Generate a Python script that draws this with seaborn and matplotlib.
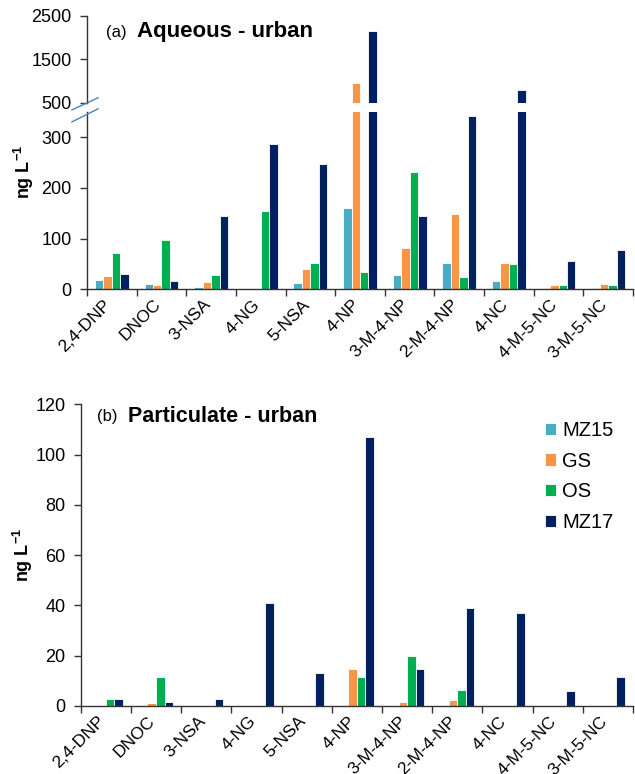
import numpy as np
import pandas as pd
import matplotlib
matplotlib.use("Agg")
import matplotlib.pyplot as plt
from matplotlib.lines import Line2D
from matplotlib.patches import Patch
import seaborn as sns

compounds = ['2,4-DNP', 'DNOC', '3-NSA', '4-NG', '5-NSA', '4-NP', '3-M-4-NP',
             '2-M-4-NP', '4-NC', '4-M-5-NC', '3-M-5-NC']
sites = ['MZ15', 'GS', 'OS', 'MZ17']
colors = ['#4BACC6', '#F79646', '#00B050', '#002060']

# (a) aqueous, ng/L
aq_mz15 = [18, 10, 4, 0, 12, 160, 28, 51, 16, 3, 3]
aq_gs = [26, 8, 14, 0, 41, 960, 82, 149, 51, 8, 10]
aq_os = [71, 97, 28, 155, 51, 34, 232, 24, 49, 8, 8]
aq_mz17 = [30, 17, 145, 286, 247, 2150, 145, 342, 785, 55, 78]

# (b) particulate, ng/L
pm_mz15 = [0, 0, 0, 0, 0, 0, 0, 0, 0, 0, 0]
pm_gs = [0, 1.0, 0, 0, 0, 14.8, 1.6, 2.4, 0, 0, 0]
pm_os = [2.8, 11.6, 0, 0, 0, 11.6, 20, 6.4, 0, 0, 0]
pm_mz17 = [2.8, 1.6, 2.8, 41, 13.3, 107, 14.8, 39, 37, 5.9, 11.6]


def to_long(series):
    rows = []
    for site, vals in zip(sites, series):
        for c, v in zip(compounds, vals):
            rows.append({'compound': c, 'site': site, 'value': v})
    return pd.DataFrame(rows)


aq_df = to_long([aq_mz15, aq_gs, aq_os, aq_mz17])
pm_df = to_long([pm_mz15, pm_gs, pm_os, pm_mz17])

sns.set_theme(style='white')
plt.rcParams['font.family'] = ['Liberation Sans', 'DejaVu Sans']
plt.rcParams['mathtext.fontset'] = 'custom'
plt.rcParams['mathtext.bf'] = 'Liberation Sans:bold'
plt.rcParams['mathtext.rm'] = 'Liberation Sans'
for k in ['text.color', 'xtick.color', 'ytick.color', 'axes.labelcolor']:
    plt.rcParams[k] = 'black'

W, H = 635, 774
fig = plt.figure(figsize=(W / 100, H / 100), dpi=100)


def frac_box(x0, y0, x1, y1):
    # pixel box (top-left origin) -> figure fraction rect
    return [x0 / W, 1 - y1 / H, (x1 - x0) / W, (y1 - y0) / H]


ax_hi = fig.add_axes(frac_box(87, 15.7, 633, 102.7))
ax_lo = fig.add_axes(frac_box(87, 112, 633, 289.3))
ax_b = fig.add_axes(frac_box(80.7, 404.3, 633, 706))


def draw(ax, df):
    sns.barplot(data=df, x='compound', y='value', hue='site', hue_order=sites,
                palette=colors, saturation=1, width=0.68, edgecolor='white',
                linewidth=0.6, ax=ax, legend=False, errorbar=None)
    ax.set_xlim(-0.5, len(compounds) - 0.5)
    ax.set_xlabel('')
    ax.set_ylabel('')
    for s in ['top', 'right']:
        ax.spines[s].set_visible(False)
    for s in ['left', 'bottom']:
        ax.spines[s].set_color('#333333')
        ax.spines[s].set_linewidth(1.0)
    ax.tick_params(axis='y', which='major', direction='out', length=5, width=1,
                   color='#333333', labelsize=13, pad=6, left=True)


def set_xcats(ax):
    ax.set_xticks(range(len(compounds)))
    ax.set_xticklabels(compounds, rotation=45, ha='right', va='baseline',
                       rotation_mode='anchor', fontsize=12.5)
    ax.set_xticks(np.arange(-0.5, len(compounds)), minor=True)
    ax.tick_params(axis='x', which='major', length=0, pad=11.5)
    ax.tick_params(axis='x', which='minor', direction='out', length=5, width=1,
                   color='#333333', bottom=True)


draw(ax_hi, aq_df)
ax_hi.set_ylim(500, 2500)
ax_hi.set_yticks([500, 1500, 2500])
ax_hi.spines['bottom'].set_visible(False)
ax_hi.set_xticks([])

draw(ax_lo, aq_df)
ax_lo.set_ylim(0, 350)
ax_lo.set_yticks([0, 100, 200, 300])
set_xcats(ax_lo)

draw(ax_b, pm_df)
ax_b.set_ylim(0, 120)
ax_b.set_yticks(range(0, 121, 20))
set_xcats(ax_b)

# axis break marks
for (x0, y0, x1, y1) in [(71.7, 110, 98.3, 97.7), (71.7, 122, 98.3, 108.7)]:
    fig.add_artist(Line2D([x0 / W, x1 / W], [1 - y0 / H, 1 - y1 / H],
                          transform=fig.transFigure, color='#4F81BD', lw=1.0))

# y labels
ylab = r'ng L$^{\mathbf{-1}}$'
fig.text(24 / W, 1 - 172 / H, ylab, rotation=90, ha='center', va='center',
         fontsize=13, fontweight='bold')
fig.text(22.5 / W, 1 - 555 / H, ylab, rotation=90, ha='center', va='center',
         fontsize=13, fontweight='bold')

# panel titles
fig.text(106 / W, 1 - 32 / H, '(a)', ha='left', va='center', fontsize=12)
fig.text(137 / W, 1 - 32 / H, 'Aqueous - urban', ha='left', va='center',
         fontsize=16, fontweight='bold')
fig.text(96.5 / W, 1 - 417 / H, '(b)', ha='left', va='center', fontsize=12)
fig.text(128 / W, 1 - 417 / H, 'Particulate - urban', ha='left', va='center',
         fontsize=15.5, fontweight='bold')

handles = [Patch(facecolor=c, edgecolor='white', linewidth=0.6) for c in colors]
fig.legend(handles, sites, loc='upper left', bbox_to_anchor=(545 / W, 1 - 421 / H),
           frameon=False, fontsize=14.5, handlelength=0.55, handleheight=0.55,
           handletextpad=0.3, labelspacing=0.58, borderaxespad=0, borderpad=0)

fig.savefig('out.png', dpi=100)
